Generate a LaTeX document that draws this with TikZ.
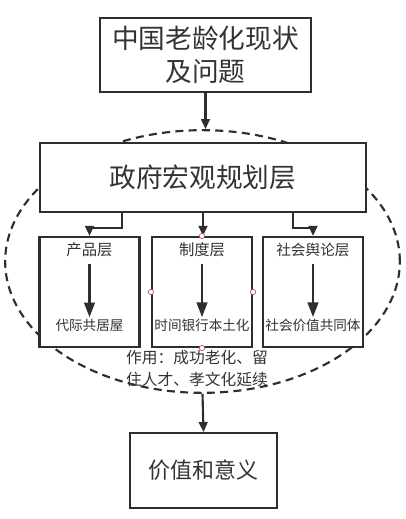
\documentclass[tikz,border=0pt]{standalone}
\usepackage{fontspec}
\setmainfont{Noto Sans CJK SC}
\usepackage{tikz}
\usetikzlibrary{arrows.meta,calc,positioning,shapes.geometric}
\definecolor{LineGray}{HTML}{2E2E2E}
\definecolor{TextGray}{HTML}{333333}
\definecolor{HandleRed}{HTML}{C0504D}

\begin{document}
\begin{tikzpicture}[x=0.75pt,y=-0.75pt,
    box/.style={draw=LineGray,line width=1.6pt,fill=white,align=center,
      text=TextGray,inner sep=0pt},
    layer/.style={box,minimum width=75pt,minimum height=82.5pt},
    title/.style={text=TextGray,font=\fontsize{11.5pt}{13pt}\selectfont,inner sep=1pt},
    item/.style={text=TextGray,font=\fontsize{10.2pt}{12pt}\selectfont,inner sep=1pt},
    arrow/.style={-{Triangle[length=7.5pt,width=6.5pt]},line width=1.6pt,color=LineGray},
    bigarrow/.style={arrow,-{Triangle[length=11pt,width=8pt]}},
    handle/.style={circle,draw=HandleRed,fill=white,line width=0.5pt,
      inner sep=0pt,minimum size=4pt}
  ]
    \useasboundingbox (0,0) rectangle (406,519);
    % dashed zone round the layers
    \node[ellipse,draw=LineGray,line width=1.6pt,dash pattern=on 6pt off 4pt,
      minimum width=296pt,minimum height=197pt,inner sep=0pt] (zone) at (202.5,261.5) {};
    \node[box,minimum width=158pt,minimum height=55.5pt,
      font=\fontsize{20pt}{25pt}\selectfont] (problem) at (205.5,55) {中国老龄化现状\\及问题};
    \node[box,minimum width=244.5pt,minimum height=51.75pt,
      font=\fontsize{20pt}{24pt}\selectfont] (gov) at (203,177.5) {政府宏观规划层};
    \node[layer] (product) at (89.5,292) {};
    \node[layer] (inst) at (202,292) {};
    \node[layer] (opinion) at (313,292) {};
    \node[box,minimum width=110pt,minimum height=56pt,
      font=\fontsize{16.5pt}{20pt}\selectfont] (value) at (203.5,470.5) {价值和意义};
    % texts in the layers
    \node[title] (producttitle) at (89.5,250) {产品层};
    \node[title] (insttitle) at (202,250) {制度层};
    \node[title,font=\fontsize{11pt}{13pt}\selectfont] (opiniontitle) at (313,250) {社会舆论层};
    \node[item] (productitem) at (89.5,325) {代际共居屋};
    \node[item] (institem) at (202,325) {时间银行本土化};
    \node[item] (opinionitem) at (313,325) {社会价值共同体};
    \node[text=TextGray,align=left,inner sep=0pt,
      font=\fontsize{11.8pt}{16.5pt}\selectfont] (effect) at (197,369)
      {作用：成功老化、留\\住人才、孝文化延续};
    % arrows
    \draw[arrow] (problem.south) -- (problem.south |- zone.north);
    \draw[arrow] ([xshift=-60.75pt]gov.south) -- ++(0,15) -| (product.north);
    \draw[arrow] (gov.south) -- (gov.south |- inst.north);
    \draw[arrow] ([xshift=67.5pt]gov.south) -- ++(0,15) -| (opinion.north);
    \draw[bigarrow] ([yshift=-4pt]producttitle.south) -- (productitem.north);
    \draw[bigarrow] ([yshift=-4pt]insttitle.south) -- (institem.north);
    \draw[bigarrow] ([yshift=-4pt]opiniontitle.south) -- (opinionitem.north);
    \draw[arrow] (zone.south) -- (value.north);
    % selection handles on the middle layer
    \foreach \side in {north,south,east,west}
      \node[handle] (handle\side) at (inst.\side) {};
  \end{tikzpicture}
\end{document}
